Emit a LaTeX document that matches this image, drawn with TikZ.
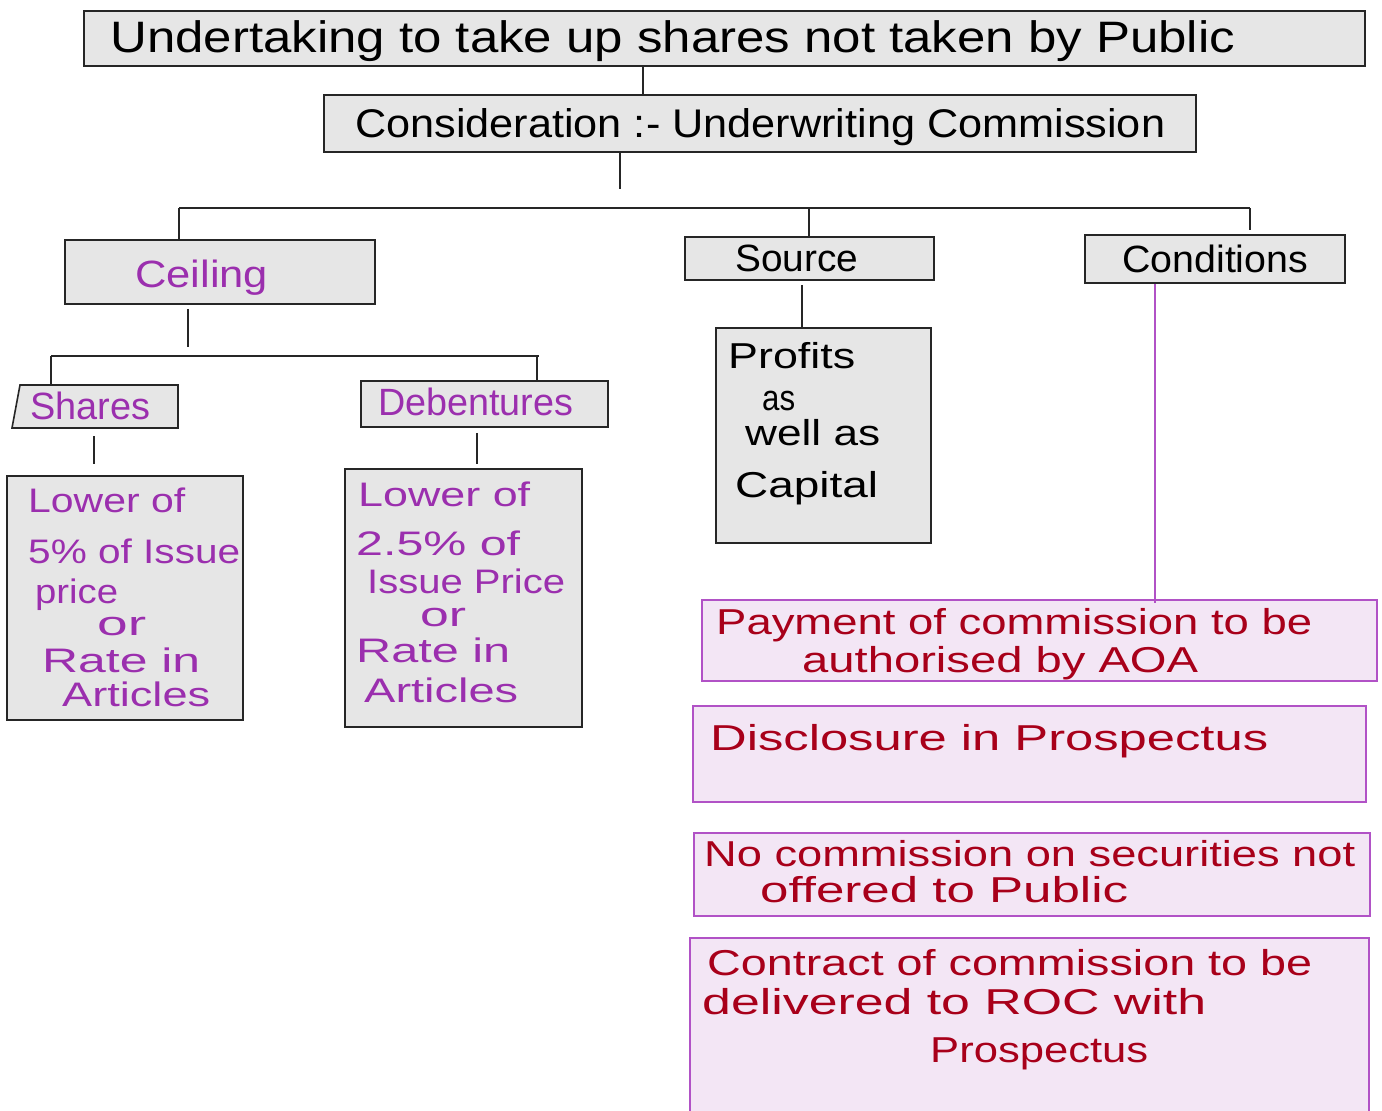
\documentclass[tikz,border=0pt]{standalone}
\usepackage{fontspec}
\setmainfont{Liberation Sans}
\usepackage{graphicx}
\definecolor{boxgray}{HTML}{E6E6E6}
\definecolor{txtpurple}{HTML}{9B2FAE}
\definecolor{condline}{HTML}{B152C6}
\definecolor{condfill}{HTML}{F3E6F5}
\definecolor{txtred}{HTML}{A8001A}
\newcommand{\fitto}[2]{\resizebox{#1}{\height}{#2}}
\begin{document}
\begin{tikzpicture}[x=1pt,y=-1pt,
  gbox/.style={draw=black!85, line width=1.6pt, fill=boxgray, inner sep=0pt},
  cbox/.style={draw=condline, line width=1.6pt, fill=condfill, inner sep=0pt},
  conn/.style={draw=black!85, line width=1.3pt},
  pconn/.style={draw=condline, line width=1.3pt},
  tl/.style={anchor=mid west, inner sep=0pt},
  blk/.style={tl, text=black},
  pur/.style={tl, text=txtpurple},
  red/.style={tl, text=txtred},
  f44/.style={font=\fontsize{44}{48}\selectfont},
  f40/.style={font=\fontsize{40}{44}\selectfont},
  f38/.style={font=\fontsize{38}{42}\selectfont},
  f36/.style={font=\fontsize{36}{40}\selectfont},
  f34/.style={font=\fontsize{34}{38}\selectfont}]
\useasboundingbox (0,0) rectangle (1382,1111);

% ---------- boxes ----------
\node[gbox, minimum width=1281pt, minimum height=55pt] (top) at (724.5,38.5) {};
\node[gbox, minimum width=872pt, minimum height=57pt] (consid) at (760,123.5) {};
\node[gbox, minimum width=310pt, minimum height=64pt] (ceiling) at (220,272) {};
\node[gbox, minimum width=249pt, minimum height=43pt] (source) at (809.5,258.5) {};
\node[gbox, minimum width=260pt, minimum height=48pt] (conds) at (1215,259) {};
\draw[gbox] (20,385) -- (178,385) -- (178,428) -- (12,428) -- cycle;
\node[inner sep=0pt, minimum width=162pt, minimum height=43pt] (shares) at (97,406.5) {};
\node[gbox, minimum width=247pt, minimum height=46pt] (deb) at (484.5,404) {};
\node[gbox, minimum width=236pt, minimum height=244pt] (shdet) at (125,598) {};
\node[gbox, minimum width=237pt, minimum height=258pt] (dbdet) at (463.5,598) {};
\node[gbox, minimum width=215pt, minimum height=215pt] (profits) at (823.5,435.5) {};
\node[cbox, minimum width=675pt, minimum height=81pt] (c1) at (1039.5,640.5) {};
\node[cbox, minimum width=673pt, minimum height=96pt] (c2) at (1029.5,754) {};
\node[cbox, minimum width=676pt, minimum height=83pt] (c3) at (1032,874.5) {};
\node[cbox, minimum width=679pt, minimum height=178pt] (c4) at (1029.5,1027) {};

% ---------- connectors ----------
\coordinate (xa) at (643,0);
\draw[conn] (top.south -| xa) -- (consid.north -| xa);
\coordinate (xb) at (620,189);
\draw[conn] (consid.south -| xb) -- (xb);
\coordinate (barL) at (179,208);
\coordinate (barM) at (809,208);
\coordinate (barR) at (1250,208);
\draw[conn] (barL) -- (barR);
\draw[conn] (barL) -- (barL |- ceiling.north);
\draw[conn] (barM) -- (barM |- source.north);
\draw[conn] (barR) -- (1250,230);
\coordinate (xc) at (188,347);
\draw[conn] (ceiling.south -| xc) ++(0,4) -- (xc);
\coordinate (bar2L) at (51,356);
\coordinate (bar2R) at (539,356);
\draw[conn] (bar2L) -- (bar2R);
\draw[conn] (bar2L) -- (bar2L |- shares.north);
\coordinate (xd) at (537,356);
\draw[conn] (xd) -- (xd |- deb.north);
\coordinate (xe) at (94,0);
\draw[conn, shorten <=8pt, shorten >=11pt] (shares.south -| xe) -- (shdet.north -| xe);
\coordinate (xf) at (477,0);
\draw[conn, shorten <=5pt, shorten >=4pt] (deb.south -| xf) -- (dbdet.north -| xf);
\coordinate (xg) at (802,0);
\draw[conn, shorten <=4pt] (source.south -| xg) -- (profits.north -| xg);
\coordinate (xh) at (1155,0);
\draw[pconn, shorten >=-4pt] (conds.south -| xh) -- (c1.north -| xh);

% ---------- texts ----------
\begin{scope}[shift={(0,8)}]
\node[blk, f44] (t1) at (110,42) {\fitto{1125pt}{Undertaking to take up shares not taken by Public}};
\node[blk, f40] (t2) at (355,127) {\fitto{810pt}{Consideration :- Underwriting Commission}};
\node[pur, f38] (t3) at (135,277) {\fitto{133pt}{Ceiling}};
\node[blk, f38] (t4) at (735,261) {\fitto{123pt}{Source}};
\node[blk, f38] (t5) at (1122,262) {\fitto{186pt}{Conditions}};
\node[pur, f38] (t6) at (30,409) {\fitto{120pt}{Shares}};
\node[pur, f38] (t7) at (378,405) {\fitto{195pt}{Debentures}};

\node[pur, f34] (s1) at (28,502) {\fitto{157pt}{Lower of}};
\node[pur, f34] (s2) at (28,553) {\fitto{212pt}{5\% of Issue}};
\node[pur, f34] (s3) at (35,593) {\fitto{83pt}{price}};
\node[pur, f34] (s4) at (97,625) {\fitto{49pt}{or}};
\node[pur, f34] (s5) at (42,662) {\fitto{158pt}{Rate in}};
\node[pur, f34] (s6) at (62,696) {\fitto{148pt}{Articles}};

\node[pur, f34] (d1) at (358,496) {\fitto{172pt}{Lower of}};
\node[pur, f34] (d2) at (356,545) {\fitto{164pt}{2.5\% of}};
\node[pur, f34] (d3) at (367,583) {\fitto{198pt}{Issue Price}};
\node[pur, f34] (d4) at (420,616) {\fitto{46pt}{or}};
\node[pur, f34] (d5) at (356,652) {\fitto{154pt}{Rate in}};
\node[pur, f34] (d6) at (364,692) {\fitto{154pt}{Articles}};

\node[blk, f36] (p1) at (728,358) {\fitto{127pt}{Profits}};
\node[blk, f36] (p2) at (762,400) {\fitto{33pt}{as}};
\node[blk, f36] (p3) at (745,435) {\fitto{135pt}{well as}};
\node[blk, f36] (p4) at (735,487) {\fitto{143pt}{Capital}};

\node[red, f36] (r1) at (716,624) {\fitto{596pt}{Payment of commission to be}};
\node[red, f36] (r2) at (802,662) {\fitto{396pt}{authorised by AOA}};
\node[red, f36] (r3) at (710,740) {\fitto{558pt}{Disclosure in Prospectus}};
\node[red, f36] (r4) at (704,856) {\fitto{651pt}{No commission on securities not}};
\node[red, f36] (r5) at (760,892) {\fitto{368pt}{offered to Public}};
\node[red, f36] (r6) at (707,965) {\fitto{605pt}{Contract of commission to be}};
\node[red, f36] (r7) at (702,1004) {\fitto{504pt}{delivered to ROC with}};
\node[red, f36] (r8) at (930,1052) {\fitto{218pt}{Prospectus}};
\end{scope}
\end{tikzpicture}
\end{document}
